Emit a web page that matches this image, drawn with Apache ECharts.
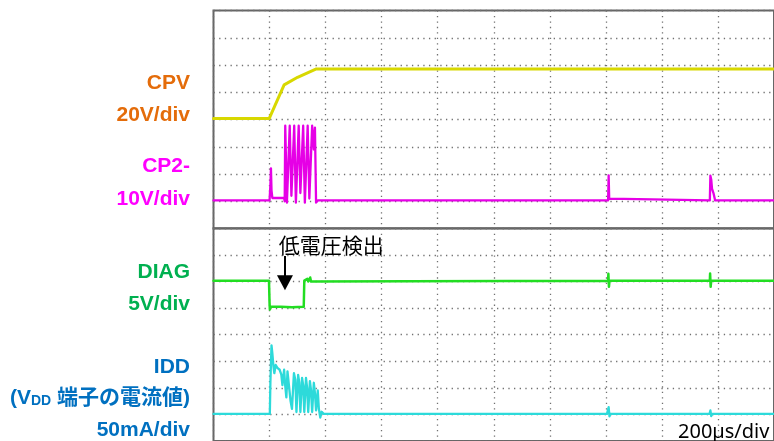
<!DOCTYPE html>
<html>
<head>
<meta charset="utf-8">
<script src="https://cdn.jsdelivr.net/npm/echarts@6/dist/echarts.min.js"></script>
<style>
  html, body { margin: 0; padding: 0; background: #ffffff; }
  #scope { width: 774px; height: 441px; }
</style>
</head>
<body>
<div id="scope"></div>
<script>
// Time in µs (200 µs per division); amplitude in screen divisions (8 per panel, 0 = panel bottom).

// Upper panel: CPV (20 V/div)
const cpvTrace = [
  [0, 4.04], [199, 4.04], [252, 5.27], [300, 5.55], [365, 5.85], [2000, 5.85]
];

// Upper panel: CP2- (10 V/div)
const cp2Trace = [
  [0, 1.03], [200, 1.03], [203, 1.6], [205, 2.21], [207, 1.4], [210, 1.12],
  [252, 1.12], [254, 1.0],
  [256, 3.77], [260, 3.77], [262, 0.95],
  [272, 3.77], [276, 3.72], [278, 1.2],
  [288, 3.77], [292, 3.7], [294, 0.95],
  [304, 3.77], [308, 3.72], [310, 1.3],
  [320, 3.77], [324, 3.7], [326, 0.95],
  [336, 3.77], [340, 3.72], [342, 1.1],
  [352, 3.77], [356, 3.75], [358, 2.9], [362, 3.7], [366, 0.95],
  [372, 1.03],
  [1408, 1.03], [1410, 1.95], [1412, 1.1], [1414, 1.03],
  [1771, 1.03], [1773, 1.94], [1776, 1.8], [1779, 1.45], [1784, 1.3], [1790, 1.03],
  [2000, 1.03]
];

// Lower panel: DIAG (5 V/div)
const diagTrace = [
  [0, 6.03], [198, 6.03], [200, 5.2], [201, 4.95], [204, 5.05], [240, 5.05],
  [280, 5.03], [322, 5.05], [324, 6.03], [335, 6.1], [338, 6.0], [345, 6.15],
  [348, 6.0], [1408, 6.03], [1409, 6.29], [1411, 5.8], [1413, 6.03],
  [1771, 6.03], [1772, 6.3], [1774, 5.8], [1776, 6.03], [2000, 6.03]
];

// Lower panel: IDD, current into the VDD pin (50 mA/div)
const iddTrace = [
  [0, 1.02], [201, 1.02], [203, 2.2], [207, 3.6], [210, 3.3], [214, 2.8],
  [217, 2.55], [222, 2.86], [228, 2.75], [236, 2.68], [242, 2.5], [246, 2.1],
  [252, 2.68], [256, 2.07], [260, 1.64], [264, 2.62], [270, 2.62], [275, 1.5],
  [280, 1.21], [287, 2.55], [292, 2.3], [296, 1.09], [302, 2.49], [306, 2.2],
  [310, 1.09], [316, 2.37], [320, 2.1], [324, 1.09], [330, 2.37], [334, 2.0],
  [338, 1.09], [344, 2.25], [348, 1.9], [352, 1.09], [358, 2.19], [362, 1.8],
  [366, 1.15], [372, 1.9], [376, 1.21], [381, 0.88], [386, 1.1], [393, 1.02],
  [1404, 1.02], [1407, 1.0], [1410, 1.27], [1413, 0.93], [1416, 1.02],
  [1770, 1.02], [1773, 1.15], [1776, 0.94], [1780, 1.02], [2000, 1.02]
];

// Channel captions (name lines, then scale lines)
const upperLabels = ['CPV', '20V/div', 'CP2-', '10V/div'];
const lowerLabels = ['DIAG', '5V/div', 'IDD', '(V{sub|DD} 端子の電流値)', '50mA/div'];
const timeBaseLabel = '200µs/div';
const markerText = '低電圧検出';

const chart = echarts.init(document.getElementById('scope'));

const gridDotsH = { color: '#707070', width: 1.3, type: [1.3, 4.37] };
const gridDotsV = { color: '#707070', width: 1.3, type: [1.3, 4.15] };

function timeAxis(idx) {
  return {
    gridIndex: idx, type: 'value', min: 0, max: 2000, interval: 200,
    axisLine: { show: false }, axisTick: { show: false }, axisLabel: { show: false },
    splitLine: { show: true, lineStyle: gridDotsV }
  };
}
function divAxis(idx) {
  return {
    gridIndex: idx, type: 'value', min: 0, max: 8, interval: 1,
    axisLine: { show: false }, axisTick: { show: false }, axisLabel: { show: false },
    splitLine: { show: true, lineStyle: gridDotsH }
  };
}
function trace(data, color, width, axis) {
  return {
    type: 'line', data: data, xAxisIndex: axis, yAxisIndex: axis,
    showSymbol: false, symbol: 'none', silent: true, animation: false,
    lineStyle: { color: color, width: width, join: 'round', cap: 'round' }
  };
}

const labelFont = '"Liberation Sans", Arial, "Noto Sans CJK JP", sans-serif';
function caption(text, y, color) {
  return {
    type: 'text', x: 190, y: y, silent: true,
    style: {
      text: text, fill: color, align: 'right', verticalAlign: 'middle',
      fontFamily: labelFont, fontWeight: 'bold', fontSize: 21,
      rich: { sub: { fontSize: 14, fontWeight: 'bold', fontFamily: labelFont, fill: color, verticalAlign: 'bottom', padding: [6, 0, 0, 0] } }
    }
  };
}

const diagSeries = trace(diagTrace, '#22dd22', 2.5, 1);
diagSeries.markLine = {
  silent: true, animation: false,
  symbol: ['none', 'triangle'], symbolSize: [16, 15],
  lineStyle: { color: '#000000', width: 2, type: 'solid', cap: 'butt' },
  label: { show: false },
  data: [[{ coord: [255, 6.96] }, { coord: [255, 5.95] }]]
};
diagSeries.markPoint = {
  silent: true, animation: false,
  data: [{
    coord: [420, 7.39], symbol: 'circle', symbolSize: 1,
    itemStyle: { color: 'rgba(0,0,0,0)' },
    label: {
      show: true, position: 'inside', formatter: markerText, color: '#000000',
      fontSize: 21, fontFamily: '"Noto Sans CJK JP", sans-serif'
    }
  }]
};

chart.setOption({
  backgroundColor: '#ffffff',
  animation: false,
  grid: [
    { left: 213.5, top: 10.5, width: 567, height: 218, show: true, borderColor: '#666666', borderWidth: 2 },
    { left: 213.5, top: 228.3, width: 567, height: 218, show: true, borderColor: '#666666', borderWidth: 2 }
  ],
  xAxis: [timeAxis(0), timeAxis(1)],
  yAxis: [divAxis(0), divAxis(1)],
  series: [
    trace(cpvTrace, '#d8d800', 3, 0),
    trace(cp2Trace, '#e600e6', 2.3, 0),
    diagSeries,
    trace(iddTrace, '#2ddada', 2.3, 1)
  ],
  graphic: [
    caption(upperLabels[0], 83, '#e46c0a'),
    caption(upperLabels[1], 115, '#e46c0a'),
    caption(upperLabels[2], 166, '#ff00ff'),
    caption(upperLabels[3], 199, '#ff00ff'),
    caption(lowerLabels[0], 272, '#00b050'),
    caption(lowerLabels[1], 304, '#00b050'),
    caption(lowerLabels[2], 367, '#0070c0'),
    caption(lowerLabels[3], 398, '#0070c0'),
    caption(lowerLabels[4], 430, '#0070c0'),
    {
      type: 'text', x: 678, y: 432, silent: true,
      style: {
        text: timeBaseLabel, fill: '#000000', align: 'left', verticalAlign: 'middle',
        fontFamily: '"Noto Sans", "DejaVu Sans", sans-serif', fontSize: 20
      }
    }
  ]
});
</script>
</body>
</html>
